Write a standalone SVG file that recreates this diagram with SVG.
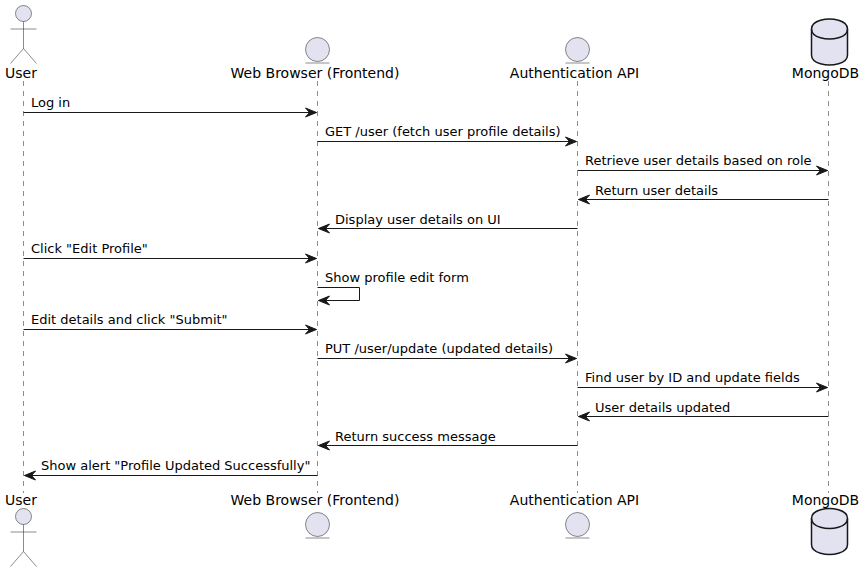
<svg xmlns="http://www.w3.org/2000/svg" width="865" height="572" viewBox="0 0 865 572">
<defs>
<style>
text{font-family:"DejaVu Sans",sans-serif;fill:#000}
.p{font-size:14px;text-anchor:middle}
.m{font-size:13px}
.ll{stroke:#181818;stroke-width:.5;stroke-dasharray:5 5;fill:none}
.a{stroke:#181818;stroke-width:1;fill:none}
.s{fill:#E2E2F0;stroke:#181818;stroke-width:.5}
.l{fill:none;stroke:#181818;stroke-width:.5}
.d{fill:#E2E2F0;stroke:#181818;stroke-width:1.5}
.dl{fill:none;stroke:#181818;stroke-width:1.5}
</style>
<marker id="ah" markerUnits="userSpaceOnUse" markerWidth="14" markerHeight="12" refX="12.5" refY="6" orient="auto"><path d="M1.5 1.5 L12.5 6 L1.5 10.5 L5.5 6 Z" fill="#181818" stroke="#181818"/></marker>
<g id="act"><circle class="s" cx="23.5" cy="13.5" r="8"/><path class="l" d="M23.5 21.5V48.5M10.5 29H36.5M23.5 48.5L10.5 63.5M23.5 48.5L36.5 63.5"/></g>
<g id="ent"><circle class="s" cx="0" cy="0" r="12"/><path class="l" d="M-12 13.5H12"/></g>
<g id="db"><path class="d" d="M811.5 29C811.5 19 829.5 19 829.5 19C829.5 19 847.5 19 847.5 29V55C847.5 65 829.5 65 829.5 65C829.5 65 811.5 65 811.5 55Z"/><path class="dl" d="M811.5 29C811.5 39 829.5 39 829.5 39C829.5 39 847.5 39 847.5 29"/></g>
</defs>
<rect width="865" height="572" fill="#fff"/>
<g id="lifelines">
<path class="ll" d="M23.5 81V493"/><path class="ll" d="M317.5 81V493"/><path class="ll" d="M577.5 81V493"/><path class="ll" d="M828.5 81V493"/>
</g>
<g id="user"><use href="#act"/><text class="p" x="21" y="78">User</text><text class="p" x="21" y="505">User</text><use href="#act" y="503"/></g>
<g id="browser"><use href="#ent" x="317.5" y="49.5"/><text class="p" x="315" y="78">Web Browser (Frontend)</text><text class="p" x="315" y="505">Web Browser (Frontend)</text><use href="#ent" x="317.5" y="524.5"/></g>
<g id="auth"><use href="#ent" x="577.5" y="49.5"/><text class="p" x="574.5" y="78">Authentication API</text><text class="p" x="574.5" y="505">Authentication API</text><use href="#ent" x="577.5" y="524.5"/></g>
<g id="mongo"><use href="#db"/><text class="p" x="825.5" y="78">MongoDB</text><text class="p" x="825.5" y="505">MongoDB</text><use href="#db" y="489.5"/></g>
<g id="connectors">
<path class="a" marker-end="url(#ah)" d="M23.5 112.5H316.5"/>
<path class="a" marker-end="url(#ah)" d="M317.5 141.5H576.5"/>
<path class="a" marker-end="url(#ah)" d="M577.5 170.5H827.5"/>
<path class="a" marker-end="url(#ah)" d="M828.5 199.5H578.5"/>
<path class="a" marker-end="url(#ah)" d="M577.5 228.5H318.5"/>
<path class="a" marker-end="url(#ah)" d="M23.5 258.5H316.5"/>
<path class="a" marker-end="url(#ah)" d="M317.5 287.5H359.5V300.5H318.5"/>
<path class="a" marker-end="url(#ah)" d="M23.5 329.5H316.5"/>
<path class="a" marker-end="url(#ah)" d="M317.5 358.5H576.5"/>
<path class="a" marker-end="url(#ah)" d="M577.5 387.5H827.5"/>
<path class="a" marker-end="url(#ah)" d="M828.5 416.5H578.5"/>
<path class="a" marker-end="url(#ah)" d="M577.5 445.5H318.5"/>
<path class="a" marker-end="url(#ah)" d="M317.5 475.5H24.5"/>
</g>
<g id="labels">
<text class="m" x="31" y="107">Log in</text>
<text class="m" x="325" y="136">GET /user (fetch user profile details)</text>
<text class="m" x="585" y="165">Retrieve user details based on role</text>
<text class="m" x="595" y="195">Return user details</text>
<text class="m" x="335" y="224">Display user details on UI</text>
<text class="m" x="31" y="253">Click "Edit Profile"</text>
<text class="m" x="325" y="282">Show profile edit form</text>
<text class="m" x="31" y="324">Edit details and click "Submit"</text>
<text class="m" x="325" y="353">PUT /user/update (updated details)</text>
<text class="m" x="585" y="382">Find user by ID and update fields</text>
<text class="m" x="595" y="412">User details updated</text>
<text class="m" x="335" y="441">Return success message</text>
<text class="m" x="41" y="470">Show alert "Profile Updated Successfully"</text>
</g>
</svg>
